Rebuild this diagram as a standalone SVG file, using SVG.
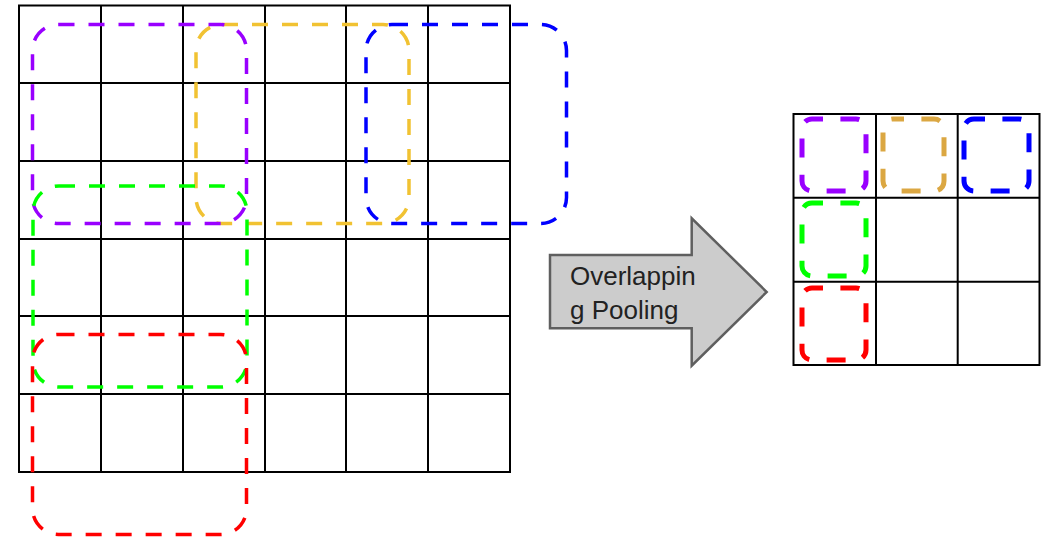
<svg xmlns="http://www.w3.org/2000/svg" width="1047" height="541" viewBox="0 0 1047 541">
  <style>
    .grid { stroke: #000; stroke-width: 2; fill: none; }
    .win { fill: none; stroke-width: 3.5; stroke-dasharray: 16 14; stroke-linecap: butt; }
    .cell { fill: none; stroke-width: 5; stroke-dasharray: 19 17.4; stroke-dashoffset: 8; }
    .purple { stroke: #9900ff; }
    .yellow { stroke: #f1c232; }
    .gold { stroke: #dba742; }
    .blue { stroke: #0000ff; }
    .green { stroke: #00ff00; }
    .red { stroke: #ff0000; }
    .label { font-family: "Liberation Sans", Arial, sans-serif; font-size: 26px; fill: #222; }
  </style>
  <rect width="1047" height="541" fill="#fff"/>

  <!-- 6x6 input feature map -->
  <g id="input-grid" class="grid">
    <rect x="19" y="5.5" width="491" height="466.5"/>
    <path d="M101 5.5V472M183 5.5V472M265 5.5V472M346 5.5V472M428 5.5V472"/>
    <path d="M19 83H510M19 161H510M19 239H510M19 316H510M19 394H510"/>
  </g>

  <!-- overlapping 3x3 pooling windows -->
  <g id="window-yellow"><rect class="win yellow" x="196" y="24.5" width="213" height="199" rx="26"/></g>
  <g id="window-blue"><rect class="win blue" x="366" y="24.5" width="200.5" height="199" rx="26"/></g>
  <g id="window-purple"><rect class="win purple" x="32.5" y="24.5" width="214" height="199" rx="26"/></g>
  <g id="window-green"><rect class="win green" x="33" y="186" width="214" height="201" rx="26"/></g>
  <g id="window-red"><rect class="win red" x="32.5" y="334.5" width="214" height="200" rx="26"/></g>

  <!-- arrow with operation label -->
  <g id="arrow-pooling">
    <path d="M550 255H691.7V218.3L766.7 292L691.7 365.7V328.3H550Z" fill="#cccccc" stroke="#5f5f5f" stroke-width="2.5" stroke-linejoin="miter"/>
    <text class="label" x="570" y="285">Overlappin</text>
    <text class="label" x="570" y="319">g Pooling</text>
  </g>

  <!-- 3x3 pooled output -->
  <g id="output-grid" class="grid">
    <rect x="793.5" y="114" width="246" height="251"/>
    <path d="M876 114V365M957.7 114V365"/>
    <path d="M793.5 197.7H1039.5M793.5 281.7H1039.5"/>
  </g>

  <g id="out-purple"><rect class="cell purple" x="802" y="119" width="64" height="72" rx="10"/></g>
  <g id="out-gold"><rect class="cell gold" x="883" y="119" width="61" height="72" rx="10"/></g>
  <g id="out-blue"><rect class="cell blue" x="964" y="119" width="65" height="72" rx="10"/></g>
  <g id="out-green"><rect class="cell green" x="802" y="203" width="64" height="73" rx="10"/></g>
  <g id="out-red"><rect class="cell red" x="802" y="288" width="64" height="72" rx="10"/></g>
</svg>
